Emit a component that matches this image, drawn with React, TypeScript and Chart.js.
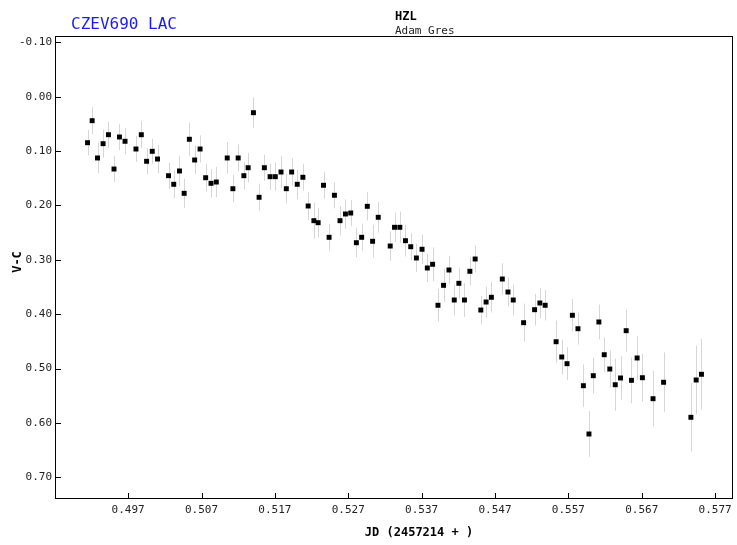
import { useEffect, useRef } from "react";
import { Chart, registerables } from "chart.js";

Chart.register(...registerables);

// JD - 2457214
const jd = [
  0.49146, 0.49209, 0.49282, 0.49358, 0.49431, 0.49507, 0.49581, 0.49657, 0.49806, 0.49879,
  0.49951, 0.50028, 0.501, 0.5025, 0.50321, 0.50399, 0.50463, 0.50534, 0.50606, 0.5068,
  0.50756, 0.50829, 0.50901, 0.5105, 0.51127, 0.51199, 0.51277, 0.51335, 0.51407, 0.51484,
  0.51556, 0.51634, 0.51705, 0.51783, 0.51855, 0.51928, 0.52004, 0.52081, 0.52153, 0.52231,
  0.52289, 0.52362, 0.52438, 0.52511, 0.52587, 0.52661, 0.52733, 0.5281, 0.52882, 0.52959,
  0.53031, 0.53108, 0.53271, 0.5333, 0.53402, 0.53479, 0.53551, 0.53628, 0.53705, 0.53777,
  0.53849, 0.53922, 0.53998, 0.54072, 0.54144, 0.54207, 0.54283, 0.54357, 0.54429, 0.54506,
  0.54578, 0.5465, 0.54799, 0.54876, 0.54948, 0.55089, 0.55239, 0.55311, 0.55383, 0.55532,
  0.55609, 0.55681, 0.55754, 0.5583, 0.55904, 0.5598, 0.56039, 0.56115, 0.56188, 0.56264,
  0.56338, 0.5641, 0.56487, 0.56559, 0.56636, 0.56708, 0.56853, 0.56997, 0.57369, 0.57441,
  0.57513,
];

// V-C magnitude
const vc = [
  0.0846, 0.0441, 0.1127, 0.0864, 0.0699, 0.133, 0.0741, 0.082, 0.0962, 0.0699,
  0.1188, 0.1004, 0.1146, 0.1453, 0.1611, 0.1366, 0.1777, 0.0783, 0.1164, 0.0962,
  0.149, 0.1593, 0.1569, 0.1127, 0.1692, 0.1127, 0.1453, 0.1306, 0.0294, 0.185,
  0.1306, 0.1471, 0.1471, 0.1385, 0.1692, 0.1385, 0.1611, 0.1482, 0.201, 0.228,
  0.2317, 0.1629, 0.2586, 0.1813, 0.228, 0.2157, 0.2139, 0.2685, 0.2586, 0.2016,
  0.2659, 0.2218, 0.2746, 0.2402, 0.2402, 0.2648, 0.2759, 0.2966, 0.2806, 0.315,
  0.3082, 0.3836, 0.3469, 0.3187, 0.3739, 0.3432, 0.3739, 0.3211, 0.2985, 0.3923,
  0.3776, 0.3689, 0.3353, 0.3592, 0.3739, 0.4156, 0.3917, 0.3794, 0.3836, 0.4506,
  0.4787, 0.491, 0.402, 0.4267, 0.5315, 0.6203, 0.5131, 0.4143, 0.4745, 0.5008,
  0.5297, 0.5173, 0.4303, 0.5216, 0.4805, 0.5168, 0.5554, 0.5252, 0.5896, 0.521,
  0.5105,
];

// error (half-length of bar)
const errs = [
  0.0235, 0.025, 0.028, 0.026, 0.024, 0.024, 0.024, 0.024, 0.024, 0.025,
  0.024, 0.023, 0.026, 0.024, 0.026, 0.028, 0.027, 0.031, 0.026, 0.025,
  0.025, 0.026, 0.028, 0.029, 0.025, 0.025, 0.025, 0.027, 0.028, 0.025,
  0.024, 0.024, 0.026, 0.029, 0.027, 0.025, 0.027, 0.025, 0.026, 0.033,
  0.027, 0.025, 0.025, 0.024, 0.027, 0.027, 0.024, 0.027, 0.025, 0.026,
  0.03, 0.028, 0.027, 0.027, 0.029, 0.029, 0.025, 0.026, 0.027, 0.026,
  0.031, 0.03, 0.031, 0.026, 0.028, 0.028, 0.031, 0.026, 0.025, 0.026,
  0.028, 0.028, 0.029, 0.027, 0.028, 0.035, 0.029, 0.028, 0.028, 0.039,
  0.032, 0.03, 0.03, 0.029, 0.039, 0.042, 0.033, 0.032, 0.032, 0.034,
  0.048, 0.04, 0.039, 0.042, 0.04, 0.044, 0.051, 0.055, 0.063, 0.063,
  0.065,
];

const xTicks = [0.497, 0.507, 0.517, 0.527, 0.537, 0.547, 0.557, 0.567, 0.577];
const yTicks = [-0.1, 0.0, 0.1, 0.2, 0.3, 0.4, 0.5, 0.6, 0.7];

const starName = "CZEV690 LAC";
const observerCode = "HZL";
const observerName = "Adam Gres";
const xTitle = "JD (2457214 + )";
const yTitle = "V-C";

const MONO = '"DejaVu Sans Mono", "Liberation Mono", monospace';

const decorPlugin = {
  id: "decor",
  beforeDatasetsDraw(chart: any) {
    const { ctx, scales } = chart;
    const x = scales.x;
    const y = scales.y;
    ctx.save();
    ctx.strokeStyle = "#d6d6d6";
    ctx.lineWidth = 1;
    for (let i = 0; i < jd.length; i++) {
      const px = Math.round(x.getPixelForValue(jd[i])) + 0.5;
      const y1 = y.getPixelForValue(vc[i] - errs[i]);
      const y2 = y.getPixelForValue(vc[i] + errs[i]);
      ctx.beginPath();
      ctx.moveTo(px, y1);
      ctx.lineTo(px, y2);
      ctx.stroke();
    }
    ctx.restore();
  },
  afterDraw(chart: any) {
    const { ctx, chartArea, scales } = chart;
    const x = scales.x;
    const y = scales.y;
    const l = chartArea.left;
    const r = chartArea.right;
    const t = chartArea.top;
    const b = chartArea.bottom;
    ctx.save();
    ctx.strokeStyle = "#000";
    ctx.lineWidth = 1;
    ctx.strokeRect(l + 0.5, t + 0.5, r - l - 1, b - t - 1);
    ctx.beginPath();
    yTicks.forEach((v) => {
      const py = Math.round(y.getPixelForValue(v)) + 0.5;
      ctx.moveTo(l, py);
      ctx.lineTo(l + 6, py);
    });
    xTicks.forEach((v) => {
      const px = Math.round(x.getPixelForValue(v)) + 0.5;
      ctx.moveTo(px, b);
      ctx.lineTo(px, b - 6);
    });
    ctx.stroke();

    // headings
    ctx.textBaseline = "alphabetic";
    ctx.textAlign = "left";
    ctx.fillStyle = "#1c1cf0";
    ctx.font = `16px ${MONO}`;
    ctx.fillText(starName, 71, 29);
    ctx.fillStyle = "#000";
    ctx.font = `bold 12px ${MONO}`;
    ctx.fillText(observerCode, 395, 19.5);
    ctx.font = `11px ${MONO}`;
    ctx.fillStyle = "#222";
    ctx.fillText(observerName, 395, 34);

    // axis titles
    ctx.fillStyle = "#000";
    ctx.font = `bold 12px ${MONO}`;
    ctx.textAlign = "center";
    ctx.fillText(xTitle, 419, 536);
    ctx.translate(18, 262);
    ctx.rotate(-Math.PI / 2);
    ctx.textBaseline = "middle";
    ctx.fillText(yTitle, 0, 0);
    ctx.restore();
  },
};

export default function App() {
  const ref = useRef<HTMLCanvasElement | null>(null);
  useEffect(() => {
    if (!ref.current) return;
    const points = jd.map((v, i) => ({ x: v, y: vc[i] }));
    const chart = new Chart(ref.current, {
      type: "scatter",
      data: {
        datasets: [
          {
            data: points,
            pointStyle: "rect",
            pointRadius: 3.5,
            pointBackgroundColor: "#000",
            pointBorderWidth: 0,
            backgroundColor: "#000",
            borderWidth: 0,
          } as any,
        ],
      },
      options: {
        animation: false,
        responsive: false,
        devicePixelRatio: 1,
        layout: { padding: { top: 36, right: 1, left: 0, bottom: 0 } },
        plugins: {
          legend: { display: false },
          tooltip: { enabled: false },
          title: { display: false },
        },
        scales: {
          x: {
            type: "linear",
            min: 0.487027,
            max: 0.579429,
            afterBuildTicks: (scale: any) => {
              scale.ticks = xTicks.map((v) => ({ value: v }));
            },
            afterFit: (scale: any) => {
              scale.height = 46;
            },
            grid: { display: false, drawTicks: false },
            border: { display: false },
            ticks: {
              autoSkip: false,
              maxRotation: 0,
              padding: 5,
              color: "#222",
              font: { family: MONO, size: 11 },
              callback: (v: any) => Number(v).toFixed(3),
            },
          },
          y: {
            type: "linear",
            reverse: true,
            min: -0.11163,
            max: 0.73986,
            afterBuildTicks: (scale: any) => {
              scale.ticks = yTicks.map((v) => ({ value: v }));
            },
            afterFit: (scale: any) => {
              scale.width = 55;
            },
            grid: { display: false, drawTicks: false },
            border: { display: false },
            ticks: {
              autoSkip: false,
              padding: 3,
              color: "#222",
              font: { family: MONO, size: 11 },
              callback: (v: any) => Number(v).toFixed(2),
            },
          },
        },
      },
      plugins: [decorPlugin],
    });
    return () => chart.destroy();
  }, []);
  return (
    <div style={{ position: "fixed", left: 0, top: 0, width: 737, height: 545, background: "#fff" }}>
      <canvas ref={ref} width={737} height={545} style={{ width: 737, height: 545, display: "block" }} />
    </div>
  );
}
